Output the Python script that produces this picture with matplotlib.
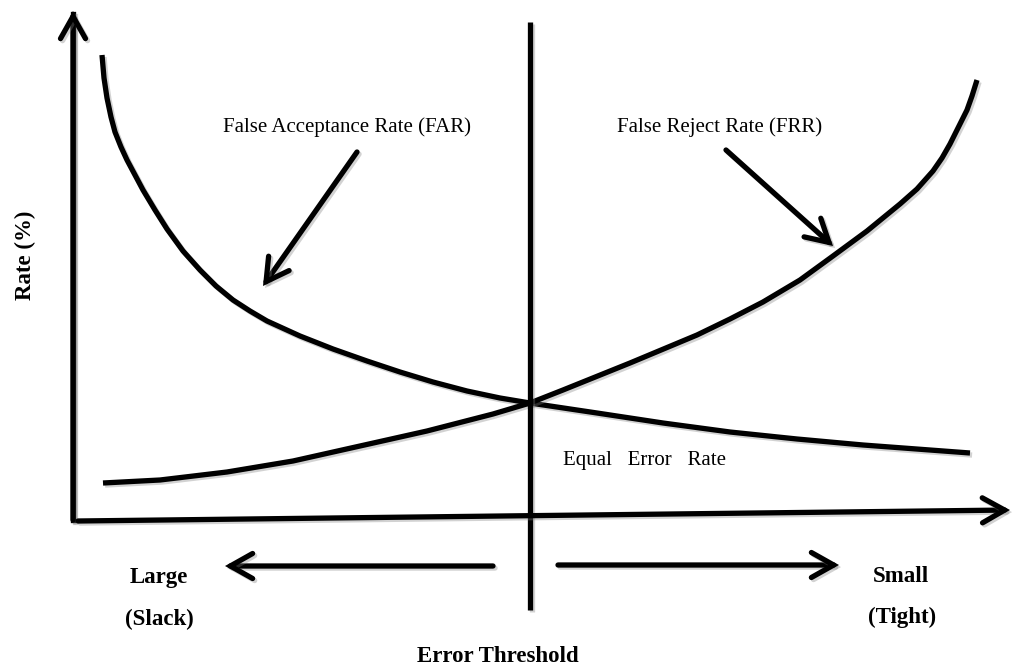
import matplotlib
matplotlib.use("Agg")
import matplotlib.pyplot as plt
import matplotlib.patheffects as pe

# ---- data (schematic coordinates; y grows downward) ----
far_x = [102, 104, 107, 111, 115, 121, 127, 135, 143, 155, 167, 183, 200, 216, 233, 250, 267, 300,
         333, 367, 400, 433, 467, 500, 530, 597, 663, 730, 797, 863, 970]
far_y = [55, 78, 98, 117, 132, 147, 160, 175, 190, 210, 229, 251, 270, 286, 300, 311, 321, 336,
         349, 361, 372, 382, 391, 398, 403, 413, 423, 432, 439, 445, 453]

frr_x = [103, 160, 227, 293, 360, 427, 493, 530, 563, 630, 697, 730, 763, 800, 833, 867, 900, 917,
         933, 942, 950, 958, 967, 972, 977]
frr_y = [483, 480, 472, 461, 446, 431, 414, 403, 390, 363, 335, 319, 302, 280, 256, 231, 204, 189,
         171, 158, 144, 128, 110, 96, 80]

eer_x = [530, 530]
eer_y = [22, 610]

curve_labels = ["False Acceptance Rate (FAR)", "False Reject Rate (FRR)"]
eer_label = "Equal   Error   Rate"
y_label = "Rate (%)"
x_label = "Error Threshold"
left_labels = ["Large", "(Slack)"]
right_labels = ["Small", "(Tight)"]

# ---- figure ----
fig = plt.figure(figsize=(10.13, 6.69), dpi=100)
ax = fig.add_axes([0, 0, 1, 1])
ax.set_xlim(0, 1013)
ax.set_ylim(669, 0)
ax.axis("off")

LW = 3.8
shadow = [pe.SimpleLineShadow(offset=(1.5, -1.5), shadow_color="gray", alpha=0.35), pe.Normal()]
serif = "Liberation Serif"

for xs, ys in [(far_x, far_y), (frr_x, frr_y), (eer_x, eer_y)]:
    ax.plot(xs, ys, color="black", lw=LW, solid_capstyle="butt", solid_joinstyle="round",
            path_effects=shadow)

def arrow(x0, y0, x1, y1):
    ax.annotate("", xy=(x1, y1), xytext=(x0, y0),
                arrowprops=dict(arrowstyle="->,head_length=0.8,head_width=0.45",
                                lw=LW, color="black", mutation_scale=20,
                                shrinkA=0, shrinkB=0, capstyle="round", joinstyle="miter",
                                path_effects=shadow))

# axes arrows
ax.plot([73, 73], [520, 14], color="black", lw=LW, path_effects=shadow)
arrow(73, 520, 73, 11)
arrow(78, 521, 1010, 510)
# pointer arrows
arrow(357, 152, 263, 286)
arrow(726, 150, 833, 246)
# threshold direction arrows
arrow(493, 566, 225, 566)
arrow(558, 565, 839, 565)

# texts
ax.text(347, 127, curve_labels[0], fontsize=15, family=serif, ha="center", va="center")
ax.text(720, 127, curve_labels[1], fontsize=15, family=serif, ha="center", va="center")
ax.text(563, 461, eer_label, fontsize=15, family=serif, ha="left", va="center")
ax.text(25, 255, y_label, fontsize=16.5, family=serif, fontweight="bold",
        rotation=90, ha="center", va="center")
ax.text(498, 657, x_label, fontsize=16.5, family=serif, fontweight="bold", ha="center", va="center")
ax.text(159, 578, left_labels[0], fontsize=16.5, family=serif, fontweight="bold", ha="center", va="center")
ax.text(159, 619, left_labels[1], fontsize=16.5, family=serif, fontweight="bold", ha="center", va="center")
ax.text(901, 577, right_labels[0], fontsize=16.5, family=serif, fontweight="bold", ha="center", va="center")
ax.text(902, 617, right_labels[1], fontsize=16.5, family=serif, fontweight="bold", ha="center", va="center")

fig.savefig("out.png", dpi=100, facecolor="white")
